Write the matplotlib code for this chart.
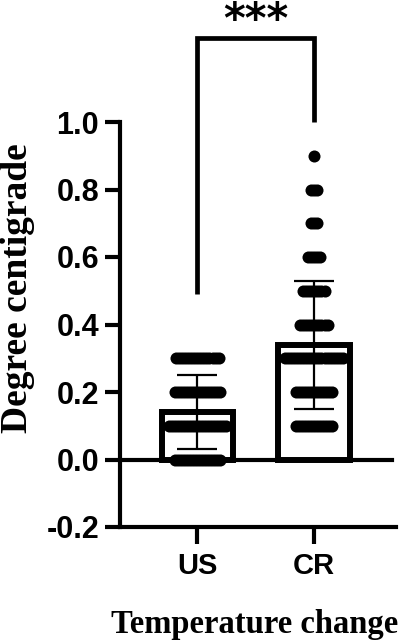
import numpy as np
import matplotlib
matplotlib.use("Agg")
import matplotlib.pyplot as plt

# ---- data ----
categories = ["US", "CR"]
means = [0.14, 0.34]
sds = [0.11, 0.19]

us_levels = [0.0, 0.1, 0.2, 0.3]
us_counts = [16, 20, 16, 15]
cr_levels = [0.1, 0.2, 0.3, 0.4, 0.5, 0.6, 0.7, 0.8, 0.9]
cr_counts = [13, 13, 20, 10, 8, 5, 3, 3, 1]

yticks = [-0.2, 0.0, 0.2, 0.4, 0.6, 0.8, 1.0]
ytick_labels = ["-0.2", "0.0", "0.2", "0.4", "0.6", "0.8", "1.0"]
sig_text = "***"
xlabel = "Temperature change"
ylabel = "Degree centigrade"

# ---- figure ----
W, H = 405, 644
fig = plt.figure(figsize=(W / 100, H / 100), dpi=100)
ax_l, ax_r, ax_t, ax_b = 120, 396, 122, 527
ax = fig.add_axes([ax_l / W, 1 - ax_b / H, (ax_r - ax_l) / W, (ax_b - ax_t) / H])
ax.set_ylim(-0.2, 1.0)
ax.set_xlim(-0.665, 1.704)

x = np.arange(len(categories))
ax.bar(x, means, width=0.61, color="white", edgecolor="black", linewidth=4.3, zorder=2)

spacing = 0.0258
for xi, levels, counts in [(0, us_levels, us_counts), (1, cr_levels, cr_counts)]:
    for lv, n in zip(levels, counts):
        offs = (np.arange(n) - (n - 1) / 2) * spacing
        ax.scatter(xi + offs, np.full(n, lv), s=75, color="black", linewidths=0, zorder=3)

ax.errorbar(x, means, yerr=sds, fmt="none", ecolor="black", elinewidth=1.6,
            capsize=14.5, capthick=1.6, zorder=4)

ax.axhline(0, xmin=0, xmax=(392 - ax_l) / (ax_r - ax_l), color="black", lw=3, zorder=1)

# significance bracket
ax.plot([0, 0, 1, 1], [0.49, 1.25, 1.25, 1.0], color="black", lw=3.4,
        clip_on=False, solid_joinstyle="miter", solid_capstyle="butt")
ax.text(0.5, 1.30, sig_text, ha="center", va="center", fontsize=30,
        fontweight="bold", family="DejaVu Sans", clip_on=False)

for s in ["top", "right"]:
    ax.spines[s].set_visible(False)
for s in ["left", "bottom"]:
    ax.spines[s].set_linewidth(3)

ax.set_yticks(yticks)
ax.set_yticklabels(ytick_labels)
ax.set_xticks(x)
ax.set_xticklabels(categories)
ax.tick_params(axis="y", length=11, width=3, labelsize=22, pad=4)
ax.tick_params(axis="x", length=12, width=3, labelsize=21, pad=6)
for lab in ax.get_xticklabels() + ax.get_yticklabels():
    lab.set_fontfamily("Liberation Sans")
    lab.set_fontweight("bold")

ax.set_xlabel(xlabel, fontsize=23.5, fontweight="bold", family="Liberation Serif")
ax.xaxis.set_label_coords((255 - ax_l) / (ax_r - ax_l), (ax_b - 625) / (ax_b - ax_t))
ax.xaxis.label.set_va("center")
ax.set_ylabel(ylabel, fontsize=27, fontweight="bold", family="Liberation Serif")
ax.yaxis.set_label_coords((18 - ax_l) / (ax_r - ax_l), (ax_b - 288) / (ax_b - ax_t))
ax.yaxis.label.set_va("center")

fig.savefig("out.png", dpi=100)
